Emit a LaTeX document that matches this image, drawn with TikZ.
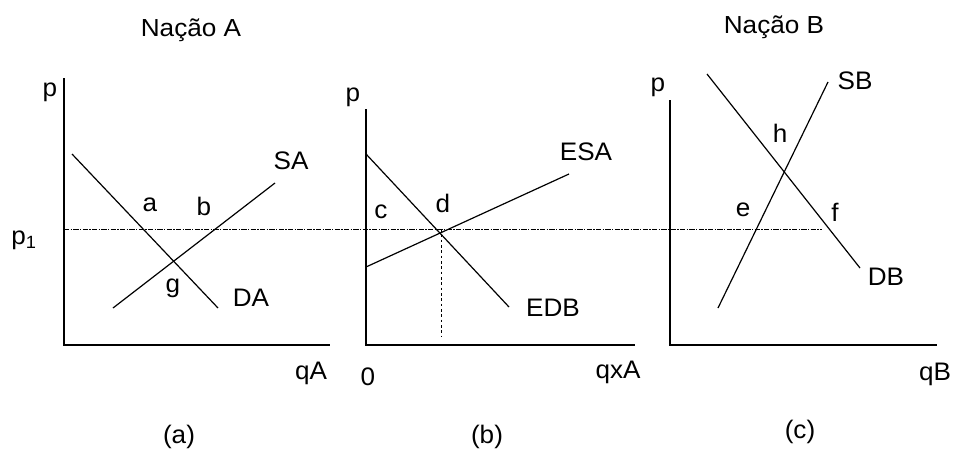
\documentclass[tikz,border=0pt]{standalone}
\usepackage{fontspec}
\setmainfont{Liberation Sans}
\newfontfamily\labfont[FakeStretch=1.03]{Liberation Sans}
\newfontfamily\titfont[FakeStretch=1.06]{Liberation Sans}
\begin{document}
\begin{tikzpicture}[x=0.75pt,y=-0.75pt,
  lab/.style={inner sep=0pt,font=\labfont\fontsize{19}{21}\selectfont},
  tit/.style={inner sep=0pt,font=\titfont\fontsize{18.5}{20}\selectfont},
  axis/.style={line width=1.2pt},
  curve/.style={line width=0.9pt},
  pline/.style={line width=0.6pt,dash pattern=on 4pt off 1pt on 1pt off 1pt},
  vline/.style={line width=0.7pt,dash pattern=on 2pt off 2pt}]
\useasboundingbox (0,0) rectangle (954,450);
% titles
\node[tit] (tA) at (191,30) {Nação A};
\node[tit] (tB) at (774,27) {Nação B};
% axes (a)
\coordinate (a0) at (64,345); \coordinate (ay) at (64,78); \coordinate (ax) at (330,345);
\draw[axis] (ay) -- (a0) -- (ax);
% axes (b)
\coordinate (b0) at (366,345); \coordinate (by) at (366,109); \coordinate (bx) at (635,345);
\draw[axis] (by) -- (b0) -- (bx);
% axes (c)
\coordinate (c0) at (670,345); \coordinate (cy) at (670,100); \coordinate (cx) at (937,345);
\draw[axis] (cy) -- (c0) -- (cx);
% price line p1
\coordinate (pl) at (64,229); \coordinate (pr) at (822,229);
\draw[pline] (pl) -- (pr);
% panel a curves
\coordinate (da1) at (72,154); \coordinate (da2) at (218,308);
\coordinate (sa1) at (113,308); \coordinate (sa2) at (275,183);
\draw[curve] (da1) -- (da2);
\draw[curve] (sa1) -- (sa2);
% panel b curves
\coordinate (edb1) at (366,154); \coordinate (edb2) at (509,307);
\coordinate (esa1) at (366,267); \coordinate (esa2) at (569,174);
\draw[curve] (edb1) -- (edb2);
\draw[curve] (esa1) -- (esa2);
\coordinate (dtop) at (441,229); \coordinate (dbot) at (441,336);
\draw[vline] (dtop) -- (dbot);
% panel c curves
\coordinate (db1) at (707,74); \coordinate (db2) at (860,268);
\coordinate (sb1) at (718,308); \coordinate (sb2) at (828,82);
\draw[curve] (db1) -- (db2);
\draw[curve] (sb1) -- (sb2);
% labels panel a
\node[lab] (pa) at (50,92) {p};
\node[lab] (p1) at (24,240) {p\textsubscript{1}};
\node[lab] (la) at (150,205) {a};
\node[lab] (lb) at (204,206) {b};
\node[lab] (lg) at (173,288) {g};
\node[lab] (SA) at (291,161) {SA};
\node[lab] (DA) at (251,298) {DA};
\node[lab] (qA) at (311,373) {qA};
\node[lab] (capa) at (179,437) {(a)};
% labels panel b
\node[lab] (pb) at (353,97) {p};
\node[lab] (lc) at (381,212) {c};
\node[lab] (ld) at (443,203) {d};
\node[lab] (ESA) at (586,152) {ESA};
\node[lab] (EDB) at (553,308) {EDB};
\node[lab] (zero) at (368,377) {0};
\node[lab] (qxA) at (618,372) {qxA};
\node[lab] (capb) at (487,437) {(b)};
% labels panel c
\node[lab] (pc) at (658,87) {p};
\node[lab] (lh) at (780,133) {h};
\node[lab] (SB) at (855,81) {SB};
\node[lab] (le) at (743,210) {e};
\node[lab] (lf) at (835,212) {f};
\node[lab] (DB) at (886,277) {DB};
\node[lab] (qB) at (935,374) {qB};
\node[lab] (capc) at (800,432) {(c)};
\end{tikzpicture}
\end{document}
